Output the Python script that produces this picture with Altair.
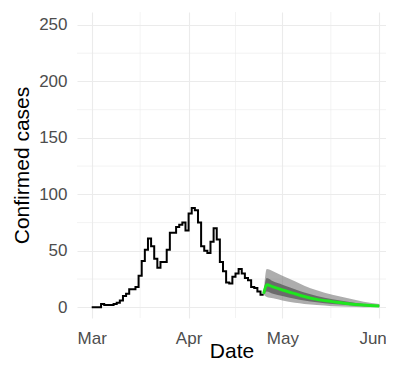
import altair as alt
import pandas as pd

# ---- data ----
daily_cases = [0, 0, 0, 3, 2, 2, 2, 3, 4, 6, 10, 12, 16, 16, 18, 28, 41, 51, 61, 54,
               43, 35, 40, 40, 51, 66, 66, 71, 73, 75, 68,
               83, 88, 86, 75, 54, 50, 48, 58, 70, 60, 40, 32, 22, 21, 27, 30, 34,
               30, 26, 24, 18, 17, 14, 11, 11]
case_dates = pd.date_range("2020-03-01", periods=len(daily_cases), freq="D").strftime("%Y-%m-%d").tolist()

fan_dates = ["2020-04-25", "2020-04-26", "2020-04-28", "2020-05-01", "2020-05-05",
             "2020-05-08", "2020-05-12", "2020-05-17", "2020-05-22", "2020-05-27", "2020-06-01"]
fan_outer_low = [11, 9, 8, 6, 4, 3, 2, 1, 0.5, 0, 0]
fan_inner_low = [11.5, 14, 12, 10, 7.5, 6, 4.5, 3, 2, 1, 0.5]
fan_inner_high = [13, 26, 23, 20, 16, 13, 10, 7, 5, 3, 2]
fan_outer_high = [13, 34, 32, 28, 23, 19, 15, 11, 8, 5, 3]
fan_median = [12, 20, 18, 15.3, 12, 9.6, 7, 5, 3.2, 2, 1.2]

minor_x_dates = ["2020-03-16T12:00:00Z", "2020-04-16T00:00:00Z", "2020-05-16T12:00:00Z"]
minor_y_values = [25, 75, 125, 175, 225]
major_y_values = [0, 50, 100, 150, 200, 250]
major_months = [3, 4, 5, 6]

cases_df = pd.DataFrame({"date": case_dates, "cases": daily_cases})
fan_df = pd.DataFrame({"date": fan_dates, "olo": fan_outer_low, "ilo": fan_inner_low,
                       "ihi": fan_inner_high, "ohi": fan_outer_high, "med": fan_median})
minor_x_df = pd.DataFrame({"date": minor_x_dates})
minor_y_df = pd.DataFrame({"cases": minor_y_values})

X_SCALE = alt.Scale(type="utc", nice=False, domain=[
    alt.DateTime(year=2020, month=2, date=25, hours=7, minutes=12, utc=True),
    alt.DateTime(year=2020, month=6, date=3, hours=3, minutes=25, utc=True)])
X_AXIS = alt.Axis(values=[alt.DateTime(year=2020, month=m, date=1, utc=True) for m in major_months],
                  format="%b", tickSize=0, labelPadding=25, labelBaseline="alphabetic",
                  labelFlush=10, labelFlushOffset=7,
                  titleBaseline="alphabetic", titleY=39, labelOverlap=False)
Y_SCALE = alt.Scale(domain=[-9.5, 261.5], nice=False, zero=False)
Y_AXIS = alt.Axis(values=major_y_values, tickSize=0, labelPadding=10,
                  titleBaseline="alphabetic", titleX=-49)


def xenc(field="date"):
    return alt.X(f"{field}:T", scale=X_SCALE, axis=X_AXIS, title="Date")


def yenc(field="cases"):
    return alt.Y(f"{field}:Q", scale=Y_SCALE, axis=Y_AXIS, title="Confirmed cases")


minor_x = alt.Chart(minor_x_df).mark_rule(color="#ebebeb", strokeWidth=0.6).encode(x=xenc())
minor_y = alt.Chart(minor_y_df).mark_rule(color="#ebebeb", strokeWidth=0.6).encode(y=yenc())

outer = alt.Chart(fan_df).mark_area(color="#767676", opacity=0.6, interpolate="monotone").encode(
    x=xenc(), y=yenc("olo"), y2="ohi:Q")
inner = alt.Chart(fan_df).mark_area(color="#5f5f5f", opacity=0.85, interpolate="monotone").encode(
    x=xenc(), y=yenc("ilo"), y2="ihi:Q")

step = alt.Chart(cases_df).mark_line(color="black", strokeWidth=2, interpolate="step-after").encode(
    x=xenc(), y=yenc())

median = alt.Chart(fan_df).mark_line(color="#1ee61e", strokeWidth=3, interpolate="monotone").encode(
    x=xenc(), y=yenc("med"))

chart = alt.layer(minor_x, minor_y, outer, inner, step, median).properties(
    width=309, height=306,
    autosize=alt.AutoSizeParams(type="none"),
    padding={"left": 69, "top": 4, "right": 0, "bottom": 43},
).configure_view(stroke=None).configure_axis(
    domain=False, ticks=False,
    labelFont="Liberation Sans", labelFontSize=17, labelColor="#4d4d4d",
    titleFont="Liberation Sans", titleFontSize=21, titleColor="black", titleFontWeight="normal",
    gridColor="#ebebeb", gridWidth=1.1,
)

chart.save("out.html", embed_options={"renderer": "svg", "actions": False})
